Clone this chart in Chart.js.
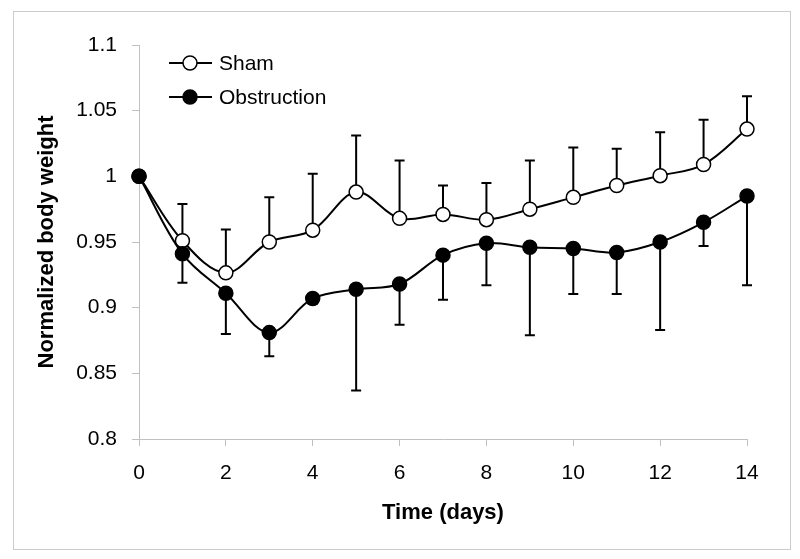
<!DOCTYPE html>
<html>
<head>
<meta charset="utf-8">
<script src="https://cdn.jsdelivr.net/npm/chart.js@4"></script>
<style>
  body { margin: 0; background: #fff; }
  #wrap { position: relative; width: 800px; height: 559px; }
  #frame { position: absolute; left: 13px; top: 11px; width: 776px; height: 537px; border: 1px solid #cccccc; }
  canvas { position: absolute; left: 0; top: 0; }
</style>
</head>
<body>
<div id="wrap">
  <div id="frame"></div>
  <canvas id="weightChart" width="800" height="559"></canvas>
</div>
<script>
// data
const days = [0, 1, 2, 3, 4, 5, 6, 7, 8, 9, 10, 11, 12, 13, 14];
const shamMean = [1.0, 0.951, 0.9265, 0.950, 0.959, 0.988, 0.968, 0.971, 0.967, 0.975, 0.984, 0.993, 1.0005, 1.009, 1.036];
const shamErr = [0, 0.028, 0.033, 0.034, 0.043, 0.043, 0.044, 0.022, 0.028, 0.037, 0.038, 0.028, 0.033, 0.034, 0.025];
const obstrMean = [1.0, 0.941, 0.911, 0.881, 0.907, 0.914, 0.918, 0.940, 0.949, 0.946, 0.945, 0.942, 0.950, 0.965, 0.985];
const obstrErr = [0, 0.022, 0.031, 0.018, 0.004, 0.077, 0.031, 0.034, 0.032, 0.067, 0.0345, 0.0315, 0.067, 0.018, 0.068];
const yTicks = [0.8, 0.85, 0.9, 0.95, 1, 1.05, 1.1];
const xTicks = [0, 2, 4, 6, 8, 10, 12, 14];

const FONT = "'Liberation Sans', Arial, sans-serif";
const AXIS_GRAY = '#c0c0c0';

// error bars: sham goes up, obstruction goes down
const errorBars = {
    id: 'errorBars',
    beforeDatasetsDraw(chart) {
        const ctx = chart.ctx;
        const xs = chart.scales.x, ys = chart.scales.y;
        chart.data.datasets.forEach(ds => {
            const dir = ds.errDir;
            ds.data.forEach((p, i) => {
                const e = ds.errors[i];
                if (!e) return;
                const px = xs.getPixelForValue(p.x);
                const y0 = ys.getPixelForValue(p.y);
                const y1 = ys.getPixelForValue(p.y + dir * e);
                ctx.save();
                ctx.strokeStyle = '#000';
                ctx.lineWidth = 2;
                ctx.beginPath();
                ctx.moveTo(px, y0);
                ctx.lineTo(px, y1);
                ctx.moveTo(px - 5, y1);
                ctx.lineTo(px + 5, y1);
                ctx.stroke();
                ctx.restore();
            });
        });
    }
};

// legend drawn inside the plot, line through marker like the original
const insideLegend = {
    id: 'insideLegend',
    afterDraw(chart) {
        const ctx = chart.ctx;
        chart.data.datasets.forEach((ds, i) => {
            const y = 63 + i * 34;
            ctx.save();
            ctx.strokeStyle = '#000';
            ctx.lineWidth = 2;
            ctx.beginPath();
            ctx.moveTo(169, y);
            ctx.lineTo(212, y);
            ctx.stroke();
            ctx.beginPath();
            ctx.arc(190, y, 7, 0, Math.PI * 2);
            ctx.fillStyle = ds.pointBackgroundColor;
            ctx.fill();
            ctx.lineWidth = 1.5;
            ctx.stroke();
            ctx.fillStyle = '#000';
            ctx.font = '21px ' + FONT;
            ctx.textBaseline = 'middle';
            ctx.fillText(ds.label, 219, y + 1);
            ctx.restore();
        });
    }
};

const ctx = document.getElementById('weightChart').getContext('2d');
new Chart(ctx, {
    type: 'line',
    data: {
        datasets: [{
            label: 'Sham',
            data: days.map((d, i) => ({ x: d, y: shamMean[i] })),
            errors: shamErr,
            errDir: 1,
            order: 1,
            borderColor: '#000',
            borderWidth: 2,
            pointRadius: 7,
            pointBorderWidth: 1.5,
            pointBackgroundColor: '#fff',
            pointBorderColor: '#000',
            tension: 0.35,
            clip: false,
            fill: false
        }, {
            label: 'Obstruction',
            data: days.map((d, i) => ({ x: d, y: obstrMean[i] })),
            errors: obstrErr,
            errDir: -1,
            order: 0,
            borderColor: '#000',
            borderWidth: 2,
            pointRadius: 7,
            pointBorderWidth: 1.5,
            pointBackgroundColor: '#000',
            pointBorderColor: '#000',
            tension: 0.35,
            clip: false,
            fill: false
        }]
    },
    options: {
        responsive: false,
        animation: false,
        events: [],
        layout: { padding: { left: 0, top: 45, right: 53, bottom: 0 } },
        plugins: {
            legend: { display: false },
            tooltip: { enabled: false }
        },
        scales: {
            x: {
                type: 'linear',
                min: 0,
                max: 14,
                afterFit(scale) { scale.height = 120; },
                afterBuildTicks(scale) { scale.ticks = xTicks.map(v => ({ value: v })); },
                grid: { drawOnChartArea: false, drawTicks: true, tickLength: 7, color: AXIS_GRAY },
                border: { display: true, color: AXIS_GRAY, width: 1 },
                ticks: {
                    color: '#000',
                    padding: 15,
                    maxRotation: 0,
                    font: { family: FONT, size: 21 },
                    callback: v => String(v)
                },
                title: {
                    display: true,
                    text: 'Time (days)',
                    color: '#000',
                    font: { family: FONT, size: 22, weight: 'bold' },
                    padding: { top: 0, bottom: 33 }
                }
            },
            y: {
                min: 0.8,
                max: 1.1,
                afterFit(scale) { scale.width = 139; },
                afterBuildTicks(scale) { scale.ticks = yTicks.map(v => ({ value: v })); },
                grid: { drawOnChartArea: false, drawTicks: true, tickLength: 7, color: AXIS_GRAY },
                border: { display: true, color: AXIS_GRAY, width: 1 },
                ticks: {
                    color: '#000',
                    padding: 15,
                    font: { family: FONT, size: 21 },
                    callback: v => String(v)
                },
                title: {
                    display: true,
                    text: 'Normalized body weight',
                    color: '#000',
                    font: { family: FONT, size: 22, weight: 'bold' },
                    padding: { top: 34, bottom: 0 }
                }
            }
        }
    },
    plugins: [errorBars, insideLegend]
});
</script>
</body>
</html>
